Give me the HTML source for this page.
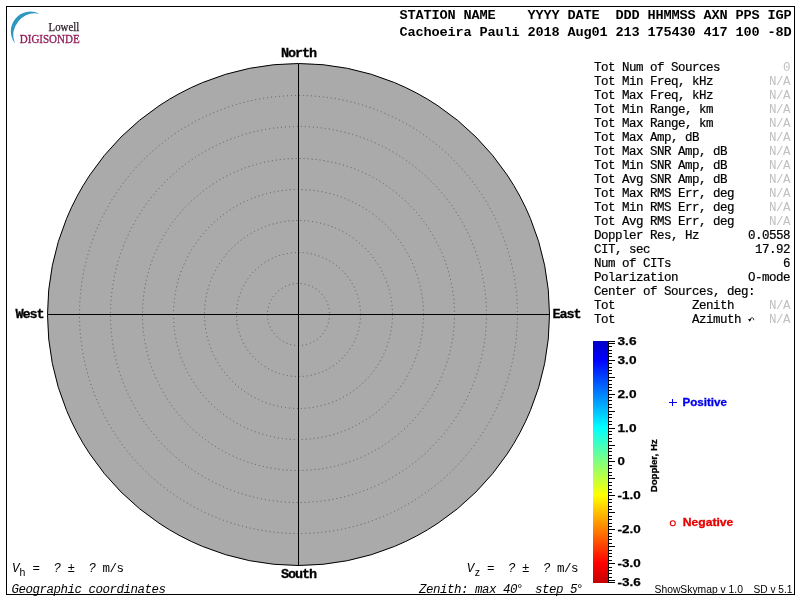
<!DOCTYPE html>
<html><head><meta charset="utf-8"><title>Skymap</title>
<style>
html,body{margin:0;padding:0;background:#fff;}
body{width:800px;height:600px;overflow:hidden;}
svg{display:block;will-change:transform;}
text{white-space:pre;}
.m{font-family:"Liberation Mono",monospace;}
.s{font-family:"Liberation Sans",sans-serif;}
.r{font-family:"Liberation Serif",serif;}
</style></head><body>
<svg width="800" height="600" viewBox="0 0 800 600">
<defs><linearGradient id="jet" x1="0" y1="0" x2="0" y2="1">
<stop offset="0.0000" stop-color="#0000c4"/>
<stop offset="0.0777" stop-color="#0000ff"/>
<stop offset="0.2178" stop-color="#0080ff"/>
<stop offset="0.3579" stop-color="#00ffff"/>
<stop offset="0.4979" stop-color="#80ff80"/>
<stop offset="0.6380" stop-color="#ffff00"/>
<stop offset="0.7781" stop-color="#ff8000"/>
<stop offset="0.9182" stop-color="#ff0000"/>
<stop offset="1.0000" stop-color="#c40000"/>
</linearGradient></defs>
<rect x="0" y="0" width="800" height="600" fill="#fff"/>
<rect x="6.5" y="6.5" width="788" height="588" fill="none" stroke="#000" stroke-width="1" shape-rendering="crispEdges"/>
<path d="M14.84 43.19 A19.64 19.64 0 0 1 39.4 13.79 A21.93 21.93 0 0 0 14.84 43.19 Z" fill="#2e97c0"/>
<text class="r" x="48.6" y="30.8" font-size="11.8" fill="#2e2029" stroke="#2e2029" stroke-width="0.25" textLength="30.6" lengthAdjust="spacingAndGlyphs">Lowell</text>
<text class="r" x="19.8" y="43.3" font-size="12.6" fill="#93205c" stroke="#93205c" stroke-width="0.35" textLength="59.8" lengthAdjust="spacingAndGlyphs">DIGISONDE</text>
<circle cx="298.5" cy="314.5" r="251" fill="#aaaaaa" stroke="#000" stroke-width="1"/>
<circle cx="298.5" cy="314.5" r="31" fill="none" stroke="#5c5c5c" stroke-width="1" stroke-dasharray="1 3"/>
<circle cx="298.5" cy="314.5" r="62" fill="none" stroke="#5c5c5c" stroke-width="1" stroke-dasharray="1 3"/>
<circle cx="298.5" cy="314.5" r="94" fill="none" stroke="#5c5c5c" stroke-width="1" stroke-dasharray="1 3"/>
<circle cx="298.5" cy="314.5" r="125" fill="none" stroke="#5c5c5c" stroke-width="1" stroke-dasharray="1 3"/>
<circle cx="298.5" cy="314.5" r="156" fill="none" stroke="#5c5c5c" stroke-width="1" stroke-dasharray="1 3"/>
<circle cx="298.5" cy="314.5" r="188" fill="none" stroke="#5c5c5c" stroke-width="1" stroke-dasharray="1 3"/>
<circle cx="298.5" cy="314.5" r="219" fill="none" stroke="#5c5c5c" stroke-width="1" stroke-dasharray="1 3"/>
<line x1="298.5" y1="63.5" x2="298.5" y2="565.5" stroke="#000" stroke-width="1" shape-rendering="crispEdges"/>
<line x1="47.5" y1="314.5" x2="549.5" y2="314.5" stroke="#000" stroke-width="1" shape-rendering="crispEdges"/>
<text class="m" font-size="13.5" letter-spacing="-1.1" font-weight="bold" fill="#000" stroke="#000" stroke-width="0.3" x="281" y="56.5">North</text>
<text class="m" font-size="13.5" letter-spacing="-1.1" font-weight="bold" fill="#000" stroke="#000" stroke-width="0.3" x="281" y="577.5">South</text>
<text class="m" font-size="13.5" letter-spacing="-1.1" font-weight="bold" fill="#000" stroke="#000" stroke-width="0.3" x="15.5" y="317.5">West</text>
<text class="m" font-size="13.5" letter-spacing="-1.1" font-weight="bold" fill="#000" stroke="#000" stroke-width="0.3" x="552.5" y="317.5">East</text>
<text class="m" font-size="13.6" letter-spacing="-0.16" font-weight="bold" fill="#000" x="399.5" y="19">STATION NAME    YYYY DATE  DDD HHMMSS AXN PPS IGP</text>
<text class="m" font-size="13.6" letter-spacing="-0.16" font-weight="bold" fill="#000" x="399.5" y="36">Cachoeira Pauli 2018 Aug01 213 175430 417 100 -8D</text>
<text class="m" font-size="12.5" letter-spacing="-0.5" x="594" y="71" fill="#000" stroke="#000" stroke-width="0.2">Tot Num of Sources</text>
<text class="m" font-size="12.5" letter-spacing="-0.5" x="783" y="71" fill="#c0c0c0">0</text>
<text class="m" font-size="12.5" letter-spacing="-0.5" x="594" y="85" fill="#000" stroke="#000" stroke-width="0.2">Tot Min Freq, kHz</text>
<text class="m" font-size="12.5" letter-spacing="-0.5" x="769" y="85" fill="#c0c0c0">N/A</text>
<text class="m" font-size="12.5" letter-spacing="-0.5" x="594" y="99" fill="#000" stroke="#000" stroke-width="0.2">Tot Max Freq, kHz</text>
<text class="m" font-size="12.5" letter-spacing="-0.5" x="769" y="99" fill="#c0c0c0">N/A</text>
<text class="m" font-size="12.5" letter-spacing="-0.5" x="594" y="113" fill="#000" stroke="#000" stroke-width="0.2">Tot Min Range, km</text>
<text class="m" font-size="12.5" letter-spacing="-0.5" x="769" y="113" fill="#c0c0c0">N/A</text>
<text class="m" font-size="12.5" letter-spacing="-0.5" x="594" y="127" fill="#000" stroke="#000" stroke-width="0.2">Tot Max Range, km</text>
<text class="m" font-size="12.5" letter-spacing="-0.5" x="769" y="127" fill="#c0c0c0">N/A</text>
<text class="m" font-size="12.5" letter-spacing="-0.5" x="594" y="141" fill="#000" stroke="#000" stroke-width="0.2">Tot Max Amp, dB</text>
<text class="m" font-size="12.5" letter-spacing="-0.5" x="769" y="141" fill="#c0c0c0">N/A</text>
<text class="m" font-size="12.5" letter-spacing="-0.5" x="594" y="155" fill="#000" stroke="#000" stroke-width="0.2">Tot Max SNR Amp, dB</text>
<text class="m" font-size="12.5" letter-spacing="-0.5" x="769" y="155" fill="#c0c0c0">N/A</text>
<text class="m" font-size="12.5" letter-spacing="-0.5" x="594" y="169" fill="#000" stroke="#000" stroke-width="0.2">Tot Min SNR Amp, dB</text>
<text class="m" font-size="12.5" letter-spacing="-0.5" x="769" y="169" fill="#c0c0c0">N/A</text>
<text class="m" font-size="12.5" letter-spacing="-0.5" x="594" y="183" fill="#000" stroke="#000" stroke-width="0.2">Tot Avg SNR Amp, dB</text>
<text class="m" font-size="12.5" letter-spacing="-0.5" x="769" y="183" fill="#c0c0c0">N/A</text>
<text class="m" font-size="12.5" letter-spacing="-0.5" x="594" y="197" fill="#000" stroke="#000" stroke-width="0.2">Tot Max RMS Err, deg</text>
<text class="m" font-size="12.5" letter-spacing="-0.5" x="769" y="197" fill="#c0c0c0">N/A</text>
<text class="m" font-size="12.5" letter-spacing="-0.5" x="594" y="211" fill="#000" stroke="#000" stroke-width="0.2">Tot Min RMS Err, deg</text>
<text class="m" font-size="12.5" letter-spacing="-0.5" x="769" y="211" fill="#c0c0c0">N/A</text>
<text class="m" font-size="12.5" letter-spacing="-0.5" x="594" y="225" fill="#000" stroke="#000" stroke-width="0.2">Tot Avg RMS Err, deg</text>
<text class="m" font-size="12.5" letter-spacing="-0.5" x="769" y="225" fill="#c0c0c0">N/A</text>
<text class="m" font-size="12.5" letter-spacing="-0.5" x="594" y="239" fill="#000" stroke="#000" stroke-width="0.2">Doppler Res, Hz</text>
<text class="m" font-size="12.5" letter-spacing="-0.5" x="748" y="239" fill="#000" stroke="#000" stroke-width="0.2">0.0558</text>
<text class="m" font-size="12.5" letter-spacing="-0.5" x="594" y="253" fill="#000" stroke="#000" stroke-width="0.2">CIT, sec</text>
<text class="m" font-size="12.5" letter-spacing="-0.5" x="755" y="253" fill="#000" stroke="#000" stroke-width="0.2">17.92</text>
<text class="m" font-size="12.5" letter-spacing="-0.5" x="594" y="267" fill="#000" stroke="#000" stroke-width="0.2">Num of CITs</text>
<text class="m" font-size="12.5" letter-spacing="-0.5" x="783" y="267" fill="#000" stroke="#000" stroke-width="0.2">6</text>
<text class="m" font-size="12.5" letter-spacing="-0.5" x="594" y="281" fill="#000" stroke="#000" stroke-width="0.2">Polarization</text>
<text class="m" font-size="12.5" letter-spacing="-0.5" x="748" y="281" fill="#000" stroke="#000" stroke-width="0.2">O-mode</text>
<text class="m" font-size="12.5" letter-spacing="-0.5" x="594" y="295" fill="#000" stroke="#000" stroke-width="0.2">Center of Sources, deg:</text>
<text class="m" font-size="12.5" letter-spacing="-0.5" x="594" y="309" fill="#000" stroke="#000" stroke-width="0.2">Tot           Zenith</text>
<text class="m" font-size="12.5" letter-spacing="-0.5" x="769" y="309" fill="#c0c0c0">N/A</text>
<text class="m" font-size="12.5" letter-spacing="-0.5" x="594" y="323" fill="#000" stroke="#000" stroke-width="0.2">Tot           Azimuth</text>
<text class="m" font-size="12.5" letter-spacing="-0.5" x="769" y="323" fill="#c0c0c0">N/A</text>
<path d="M750 320.2 Q750.6 317.4 752.3 317.7 Q753.9 318 753.8 320.2" fill="none" stroke="#000" stroke-width="0.8"/>
<path d="M748 319 L751.3 319.2 L749.7 321.7 Z" fill="#000"/>
<rect x="593" y="341" width="15" height="242" fill="url(#jet)" shape-rendering="crispEdges"/>
<rect x="608" y="341" width="1" height="242" fill="#000" shape-rendering="crispEdges"/>
<path d="M609 582.5 h6M609 580.5 h6M609 577.5 h3M609 573.5 h3M609 570.5 h3M609 567.5 h3M609 563.5 h6M609 560.5 h3M609 556.5 h3M609 553.5 h3M609 550.5 h3M609 546.5 h6M609 543.5 h3M609 539.5 h3M609 536.5 h3M609 533.5 h3M609 529.5 h6M609 526.5 h3M609 523.5 h3M609 519.5 h3M609 516.5 h3M609 512.5 h6M609 509.5 h3M609 506.5 h3M609 502.5 h3M609 499.5 h3M609 495.5 h6M609 492.5 h3M609 489.5 h3M609 485.5 h3M609 482.5 h3M609 478.5 h6M609 475.5 h3M609 472.5 h3M609 468.5 h3M609 465.5 h3M609 461.5 h6M609 458.5 h3M609 455.5 h3M609 451.5 h3M609 448.5 h3M609 445.5 h6M609 441.5 h3M609 438.5 h3M609 434.5 h3M609 431.5 h3M609 428.5 h6M609 424.5 h3M609 421.5 h3M609 417.5 h3M609 414.5 h3M609 411.5 h6M609 407.5 h3M609 404.5 h3M609 400.5 h3M609 397.5 h3M609 394.5 h6M609 390.5 h3M609 387.5 h3M609 384.5 h3M609 380.5 h3M609 377.5 h6M609 373.5 h3M609 370.5 h3M609 367.5 h3M609 363.5 h3M609 360.5 h6M609 356.5 h3M609 353.5 h3M609 350.5 h3M609 346.5 h3M609 343.5 h6M609 341.5 h6" stroke="#000" stroke-width="1" fill="none" shape-rendering="crispEdges"/>
<text class="s" font-size="11.5" font-weight="bold" fill="#000" stroke="#000" stroke-width="0.25" x="617.5" y="345" textLength="19" lengthAdjust="spacingAndGlyphs">3.6</text>
<text class="s" font-size="11.5" font-weight="bold" fill="#000" stroke="#000" stroke-width="0.25" x="617.5" y="364" textLength="19" lengthAdjust="spacingAndGlyphs">3.0</text>
<text class="s" font-size="11.5" font-weight="bold" fill="#000" stroke="#000" stroke-width="0.25" x="617.5" y="398" textLength="19" lengthAdjust="spacingAndGlyphs">2.0</text>
<text class="s" font-size="11.5" font-weight="bold" fill="#000" stroke="#000" stroke-width="0.25" x="617.5" y="432" textLength="19" lengthAdjust="spacingAndGlyphs">1.0</text>
<text class="s" font-size="11.5" font-weight="bold" fill="#000" stroke="#000" stroke-width="0.25" x="617.5" y="465" textLength="7.4" lengthAdjust="spacingAndGlyphs">0</text>
<text class="s" font-size="11.5" font-weight="bold" fill="#000" stroke="#000" stroke-width="0.25" x="617.5" y="499" textLength="23.2" lengthAdjust="spacingAndGlyphs">-1.0</text>
<text class="s" font-size="11.5" font-weight="bold" fill="#000" stroke="#000" stroke-width="0.25" x="617.5" y="533" textLength="23.2" lengthAdjust="spacingAndGlyphs">-2.0</text>
<text class="s" font-size="11.5" font-weight="bold" fill="#000" stroke="#000" stroke-width="0.25" x="617.5" y="567" textLength="23.2" lengthAdjust="spacingAndGlyphs">-3.0</text>
<text class="s" font-size="11.5" font-weight="bold" fill="#000" stroke="#000" stroke-width="0.25" x="617.5" y="586" textLength="23.2" lengthAdjust="spacingAndGlyphs">-3.6</text>
<text class="s" font-size="9.2" font-weight="bold" fill="#000" stroke="#000" stroke-width="0.3" transform="translate(657,492.3) rotate(-90)" textLength="53" lengthAdjust="spacingAndGlyphs">Doppler, Hz</text>
<path d="M669 402.5 h8 M672.5 399 v7" stroke="#0000ee" stroke-width="1" fill="none" shape-rendering="crispEdges"/>
<text class="s" font-size="10.6" font-weight="bold" fill="#0000ee" stroke="#0000ee" stroke-width="0.3" x="682.5" y="406" textLength="44.5" lengthAdjust="spacingAndGlyphs">Positive</text>
<circle cx="672.8" cy="523.2" r="2.5" fill="none" stroke="#e80000" stroke-width="1.1"/>
<text class="s" font-size="10.6" font-weight="bold" fill="#e80000" stroke="#e80000" stroke-width="0.3" x="682.8" y="526" textLength="50.5" lengthAdjust="spacingAndGlyphs">Negative</text>
<text class="m" font-size="12.5" letter-spacing="-0.5" font-style="italic" fill="#000" x="12" y="572">V</text>
<text class="s" font-size="10.5" fill="#000" x="19.5" y="575.5">h</text>
<text class="m" font-size="12.5" letter-spacing="-0.5" fill="#000" x="32.5" y="572">=</text>
<text class="m" font-size="12.5" letter-spacing="-0.5" font-style="italic" fill="#000" x="53.5" y="572">?</text>
<text class="m" font-size="12.5" letter-spacing="-0.5" fill="#000" x="67.5" y="572">±</text>
<text class="m" font-size="12.5" letter-spacing="-0.5" font-style="italic" fill="#000" x="88.5" y="572">?</text>
<text class="m" font-size="12.5" letter-spacing="-0.5" fill="#000" x="102.5" y="572">m/s</text>
<text class="m" font-size="12.5" letter-spacing="-0.5" font-style="italic" fill="#000" x="466.8" y="572">V</text>
<text class="s" font-size="10.5" fill="#000" x="474.7" y="575.5">z</text>
<text class="m" font-size="12.5" letter-spacing="-0.5" fill="#000" x="487" y="572">=</text>
<text class="m" font-size="12.5" letter-spacing="-0.5" font-style="italic" fill="#000" x="508" y="572">?</text>
<text class="m" font-size="12.5" letter-spacing="-0.5" fill="#000" x="522" y="572">±</text>
<text class="m" font-size="12.5" letter-spacing="-0.5" font-style="italic" fill="#000" x="543" y="572">?</text>
<text class="m" font-size="12.5" letter-spacing="-0.5" fill="#000" x="557" y="572">m/s</text>
<text class="m" font-size="12.5" letter-spacing="-0.5" font-style="italic" fill="#000" x="11.5" y="592.5">Geographic coordinates</text>
<text class="m" font-size="12.5" letter-spacing="-0.5" font-style="italic" fill="#000" x="419" y="592.5">Zenith: max 40</text>
<text class="m" font-size="12.5" letter-spacing="-0.5" font-style="italic" fill="#000" x="516" y="592.5">°</text>
<text class="m" font-size="12.5" letter-spacing="-0.5" font-style="italic" fill="#000" x="535" y="592.5">step 5</text>
<text class="m" font-size="12.5" letter-spacing="-0.5" font-style="italic" fill="#000" x="576" y="592.5">°</text>
<text class="s" font-size="10" fill="#000" x="654.5" y="592.5" textLength="88.5" lengthAdjust="spacingAndGlyphs">ShowSkymap v 1.0</text>
<text class="s" font-size="10" fill="#000" x="753.5" y="592.5" textLength="39" lengthAdjust="spacingAndGlyphs">SD v 5.1</text>
</svg></body></html>
